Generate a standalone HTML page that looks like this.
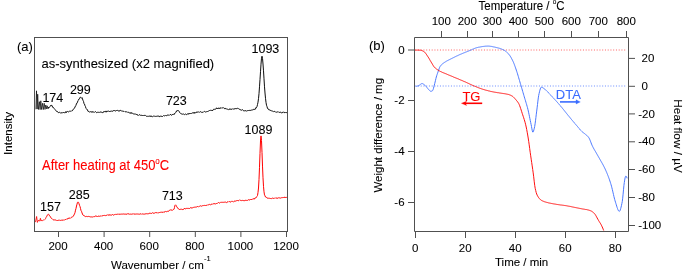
<!DOCTYPE html>
<html><head><meta charset="utf-8"><style>
html,body{margin:0;padding:0;background:#fff;}
body{width:685px;height:270px;overflow:hidden;}
svg{display:block;will-change:transform;font-family:"Liberation Sans",sans-serif;}
</style></head><body>
<svg width="685" height="270" viewBox="0 0 685 270">
<rect width="685" height="270" fill="#fff"/>
<!-- Panel (a) -->
<g fill="none" stroke="#505050" stroke-width="1">
<rect x="34.5" y="37.5" width="253" height="194"/>
<line x1="58.5" y1="231" x2="58.5" y2="237"/><line x1="104.1" y1="231" x2="104.1" y2="237"/><line x1="149.7" y1="231" x2="149.7" y2="237"/><line x1="195.3" y1="231" x2="195.3" y2="237"/><line x1="240.9" y1="231" x2="240.9" y2="237"/><line x1="286.5" y1="231" x2="286.5" y2="237"/>
</g>
<path d="M35.9 109.3L36.5 90.8 37.1 109.0 37.7 94.2 38.4 109.5 39.4 101.7 40.1 109.6 40.8 100.8 41.6 109.5 42.5 103.3 43.3 109.6 44.2 103.3 45.0 109.4 45.8 105.0 46.5 108.8 47.2 105.8 48.0 108.8" fill="none" stroke="#000" stroke-width="0.7" stroke-linejoin="miter" stroke-miterlimit="4"/>
<path d="M48.0 108.8L48.5 107.1 49.0 107.8 49.5 107.0 50.0 106.5 50.5 106.0 51.0 105.0 51.5 105.4 52.0 105.4 52.5 107.2 53.0 106.9 53.5 107.5 54.0 108.3 54.5 109.0 55.0 109.5 55.5 110.2 56.0 110.9 56.5 111.1 57.0 111.8 57.5 111.7 58.0 112.0 58.5 112.7 59.0 112.5 59.5 112.3 60.0 112.5 60.5 112.8 61.0 113.3 61.5 112.6 62.0 112.6 62.5 112.9 63.0 112.3 63.5 112.5 64.0 112.8 64.5 112.7 65.0 112.5 65.5 112.6 66.0 111.4 66.5 112.5 67.0 111.8 67.5 111.4 68.0 111.9 68.5 111.9 69.0 111.5 69.5 111.2 70.0 111.4 70.5 111.2 71.0 111.5 71.5 111.1 72.0 110.6 72.5 110.6 73.0 109.7 73.5 109.0 74.0 108.8 74.5 108.1 75.0 107.0 75.5 105.9 76.0 105.3 76.5 103.4 77.0 103.4 77.5 102.2 78.0 100.5 78.5 100.1 79.0 98.9 79.5 98.7 80.0 97.3 80.5 97.3 81.0 97.7 81.5 98.1 82.0 97.6 82.5 99.0 83.0 100.4 83.5 101.4 84.0 103.5 84.5 104.0 85.0 105.8 85.5 106.6 86.0 108.5 86.5 108.9 87.0 109.6 87.5 109.8 88.0 111.4 88.5 111.5 89.0 111.7 89.5 112.0 90.0 111.9 90.5 111.7 91.0 111.7 91.5 111.7 92.0 112.5 92.5 111.6 93.0 111.9 93.5 112.0 94.0 112.2 94.5 112.3 95.0 111.8 95.5 111.6 96.0 112.2 96.5 112.6 97.0 112.4 97.5 112.3 98.0 112.1 98.5 112.3 99.0 112.1 99.5 112.4 100.0 111.8 100.5 112.1 101.0 112.0 101.5 112.2 102.0 112.0 102.5 112.7 103.0 112.4 103.5 112.3 104.0 111.2 104.5 111.7 105.0 111.5 105.5 111.9 106.0 110.9 106.5 112.0 107.0 111.9 107.5 111.1 108.0 111.1 108.5 111.1 109.0 111.4 109.5 111.5 110.0 111.9 110.5 111.1 111.0 111.3 111.5 111.1 112.0 111.5 112.5 111.2 113.0 111.3 113.5 110.5 114.0 110.7 114.5 110.5 115.0 111.2 115.5 110.9 116.0 110.5 116.5 110.5 117.0 110.7 117.5 110.4 118.0 110.3 118.5 110.7 119.0 111.4 119.5 110.6 120.0 110.5 120.5 110.4 121.0 110.4 121.5 111.1 122.0 111.3 122.5 111.1 123.0 111.3 123.5 111.3 124.0 111.5 124.5 111.0 125.0 111.5 125.5 111.8 126.0 111.6 126.5 111.8 127.0 111.8 127.5 112.1 128.0 112.6 128.5 112.3 129.0 112.5 129.5 112.9 130.0 112.9 130.5 113.4 131.0 112.3 131.5 113.3 132.0 113.0 132.5 113.3 133.0 113.7 133.5 113.9 134.0 114.0 134.5 113.8 135.0 114.4 135.5 113.9 136.0 114.1 136.5 114.5 137.0 114.2 137.5 115.2 138.0 114.9 138.5 115.4 139.0 114.8 139.5 114.7 140.0 115.0 140.5 115.3 141.0 114.9 141.5 115.3 142.0 115.3 142.5 115.9 143.0 115.2 143.5 115.9 144.0 115.4 144.5 115.4 145.0 115.5 145.5 115.4 146.0 115.9 146.5 116.3 147.0 116.1 147.5 116.3 148.0 116.6 148.5 116.3 149.0 116.3 149.5 116.2 150.0 115.8 150.5 116.5 151.0 115.7 151.5 116.5 152.0 116.3 152.5 116.7 153.0 116.3 153.5 116.1 154.0 116.5 154.5 116.2 155.0 116.3 155.5 116.4 156.0 116.3 156.5 116.3 157.0 116.1 157.5 116.3 158.0 115.7 158.5 116.3 159.0 116.0 159.5 116.7 160.0 116.8 160.5 115.8 161.0 116.4 161.5 116.3 162.0 116.0 162.5 116.5 163.0 116.1 163.5 115.6 164.0 116.0 164.5 115.9 165.0 115.9 165.5 115.4 166.0 115.9 166.5 115.8 167.0 115.1 167.5 115.1 168.0 115.2 168.5 114.9 169.0 115.5 169.5 115.0 170.0 114.5 170.5 114.5 171.0 114.7 171.5 115.4 172.0 114.5 172.5 114.5 173.0 114.6 173.5 114.2 174.0 114.7 174.5 113.5 175.0 113.5 175.5 112.7 176.0 112.1 176.5 110.9 177.0 111.3 177.5 110.5 178.0 110.6 178.5 110.6 179.0 111.2 179.5 112.3 180.0 113.0 180.5 113.3 181.0 113.8 181.5 113.9 182.0 113.8 182.5 114.2 183.0 114.2 183.5 114.0 184.0 114.3 184.5 114.6 185.0 114.2 185.5 114.0 186.0 114.4 186.5 114.7 187.0 114.0 187.5 113.9 188.0 113.8 188.5 114.2 189.0 113.1 189.5 113.7 190.0 113.9 190.5 113.2 191.0 113.8 191.5 113.4 192.0 112.9 192.5 113.1 193.0 112.4 193.5 112.7 194.0 113.4 194.5 112.4 195.0 113.2 195.5 112.6 196.0 112.8 196.5 112.5 197.0 111.7 197.5 112.2 198.0 112.4 198.5 111.9 199.0 111.8 199.5 112.3 200.0 112.0 200.5 111.6 201.0 111.9 201.5 112.3 202.0 111.9 202.5 112.3 203.0 112.4 203.5 111.9 204.0 111.5 204.5 111.4 205.0 111.7 205.5 112.0 206.0 111.7 206.5 111.7 207.0 111.4 207.5 111.5 208.0 111.2 208.5 111.1 209.0 110.7 209.5 110.5 210.0 110.6 210.5 110.3 211.0 110.1 211.5 110.4 212.0 110.0 212.5 110.8 213.0 110.0 213.5 109.3 214.0 109.6 214.5 109.3 215.0 108.9 215.5 109.3 216.0 108.6 216.5 107.8 217.0 108.9 217.5 108.3 218.0 108.9 218.5 108.1 219.0 107.8 219.5 108.6 220.0 107.7 220.5 108.0 221.0 108.4 221.5 107.9 222.0 107.8 222.5 107.9 223.0 108.1 223.5 107.7 224.0 108.3 224.5 108.4 225.0 109.1 225.5 108.4 226.0 108.4 226.5 109.1 227.0 108.8 227.5 109.2 228.0 109.3 228.5 109.7 229.0 109.2 229.5 109.4 230.0 108.6 230.5 109.1 231.0 109.8 231.5 109.1 232.0 109.0 232.5 108.8 233.0 109.3 233.5 109.1 234.0 108.5 234.5 108.9 235.0 108.7 235.5 108.7 236.0 108.1 236.5 108.8 237.0 108.4 237.5 108.3 238.0 108.3 238.5 108.6 239.0 109.2 239.5 109.1 240.0 109.8 240.5 109.8 241.0 110.2 241.5 110.2 242.0 110.0 242.5 109.6 243.0 110.4 243.5 110.7 244.0 110.6 244.5 110.8 245.0 110.6 245.5 110.7 246.0 110.5 246.5 111.2 247.0 110.8 247.5 110.6 248.0 110.2 248.5 110.5 249.0 110.9 249.5 110.5 250.0 109.9 250.5 110.5 251.0 110.4 251.5 110.1 252.0 109.9 252.5 109.9 253.0 109.6 253.5 109.6 254.0 108.9 254.5 109.5 255.0 108.8 255.5 109.1 256.0 107.3 256.5 107.5 257.0 106.5 257.5 104.5 258.0 102.2 258.5 98.6 259.0 93.6 259.5 86.8 260.0 79.4 260.5 71.7 261.0 64.2 261.5 58.2 262.0 56.2 262.5 58.3 263.0 64.0 263.5 70.8 264.0 78.8 264.5 86.8 265.0 93.0 265.5 98.3 266.0 102.4 266.5 105.2 267.0 106.6 267.5 108.4 268.0 108.4 268.5 109.6 269.0 109.3 269.5 109.7 270.0 110.6 270.5 110.4 271.0 110.5 271.5 110.8 272.0 111.2 272.5 111.1 273.0 111.3 273.5 111.7 274.0 111.2 274.5 111.4 275.0 111.5 275.5 112.1 276.0 112.1 276.5 112.2 277.0 111.9 277.5 111.9 278.0 112.3 278.5 111.9 279.0 112.4 279.5 112.4 280.0 112.0 280.5 112.2 281.0 112.3 281.5 112.9 282.0 113.2 282.5 112.4 283.0 112.5 283.5 111.8 284.0 112.6 284.5 112.6 285.0 112.3 285.5 112.9 286.0 112.2 286.5 112.6 287.0 112.8" fill="none" stroke="#000" stroke-width="0.95" stroke-linejoin="round"/>
<path d="M35.5 222.1L36.6 216.5 37.4 222.4 38.1 220.6 38.9 220.4 39.6 221.2 40.4 218.3 41.0 221.0 41.8 220.3 42.5 220.7 43.3 219.9 44.2 220.1 44.9 219.4 45.5 218.8 46.0 217.5" fill="none" stroke="#ff0000" stroke-width="0.85" stroke-linejoin="miter" stroke-miterlimit="3"/>
<path d="M46.0 217.5L46.5 216.8 47.0 215.8 47.5 214.8 48.0 214.4 48.5 214.2 49.0 214.8 49.5 215.8 50.0 216.1 50.5 216.8 51.0 217.9 51.5 218.5 52.0 218.9 52.5 219.0 53.0 219.5 53.5 219.9 54.0 219.6 54.5 219.9 55.0 219.7 55.5 220.0 56.0 219.9 56.5 220.4 57.0 220.1 57.5 220.5 58.0 220.5 58.5 220.4 59.0 219.8 59.5 220.3 60.0 220.4 60.5 220.4 61.0 220.0 61.5 220.2 62.0 220.1 62.5 220.1 63.0 220.5 63.5 219.9 64.0 220.0 64.5 220.1 65.0 219.5 65.5 219.5 66.0 219.4 66.5 219.2 67.0 218.7 67.5 218.9 68.0 219.0 68.5 218.1 69.0 218.5 69.5 218.2 70.0 217.8 70.5 218.3 71.0 217.8 71.5 217.1 72.0 217.2 72.5 217.0 73.0 216.3 73.5 215.9 74.0 214.9 74.5 213.9 75.0 212.6 75.5 210.2 76.0 208.4 76.5 206.0 77.0 204.2 77.5 202.4 78.0 201.9 78.5 202.4 79.0 203.7 79.5 205.3 80.0 206.5 80.5 208.4 81.0 210.5 81.5 211.3 82.0 212.9 82.5 214.0 83.0 215.1 83.5 215.5 84.0 215.6 84.5 215.9 85.0 216.1 85.5 216.7 86.0 216.3 86.5 216.4 87.0 216.7 87.5 216.6 88.0 216.6 88.5 216.4 89.0 216.7 89.5 216.6 90.0 217.0 90.5 216.9 91.0 216.7 91.5 216.9 92.0 216.7 92.5 217.0 93.0 216.7 93.5 216.8 94.0 216.3 94.5 216.7 95.0 216.1 95.5 216.0 96.0 216.4 96.5 216.2 97.0 216.4 97.5 216.9 98.0 216.1 98.5 216.1 99.0 216.2 99.5 216.3 100.0 216.1 100.5 216.0 101.0 216.2 101.5 216.1 102.0 215.6 102.5 215.8 103.0 215.8 103.5 215.5 104.0 215.7 104.5 215.4 105.0 215.8 105.5 215.6 106.0 215.5 106.5 215.3 107.0 215.3 107.5 214.8 108.0 215.0 108.5 215.3 109.0 214.6 109.5 215.3 110.0 214.6 110.5 215.2 111.0 214.8 111.5 215.1 112.0 214.9 112.5 214.5 113.0 215.1 113.5 215.1 114.0 214.7 114.5 214.6 115.0 214.6 115.5 214.3 116.0 214.8 116.5 214.4 117.0 214.4 117.5 214.2 118.0 214.2 118.5 214.0 119.0 214.6 119.5 214.2 120.0 214.5 120.5 214.2 121.0 214.0 121.5 214.1 122.0 214.0 122.5 214.1 123.0 214.0 123.5 214.0 124.0 213.7 124.5 213.9 125.0 214.5 125.5 213.9 126.0 213.8 126.5 214.2 127.0 214.4 127.5 213.7 128.0 214.0 128.5 213.9 129.0 213.6 129.5 214.3 130.0 214.1 130.5 214.1 131.0 213.9 131.5 214.2 132.0 213.9 132.5 214.0 133.0 213.8 133.5 213.8 134.0 214.4 134.5 214.0 135.0 214.2 135.5 214.1 136.0 214.0 136.5 214.0 137.0 214.2 137.5 214.0 138.0 214.0 138.5 214.1 139.0 214.4 139.5 214.2 140.0 214.1 140.5 213.9 141.0 213.7 141.5 214.2 142.0 214.2 142.5 213.9 143.0 214.1 143.5 214.1 144.0 214.1 144.5 214.1 145.0 213.7 145.5 214.1 146.0 213.4 146.5 213.9 147.0 213.8 147.5 213.8 148.0 214.1 148.5 213.9 149.0 213.2 149.5 213.0 150.0 213.6 150.5 213.1 151.0 213.4 151.5 213.5 152.0 212.9 152.5 212.7 153.0 213.3 153.5 213.2 154.0 213.1 154.5 213.1 155.0 212.8 155.5 212.6 156.0 212.9 156.5 212.7 157.0 212.5 157.5 213.0 158.0 212.8 158.5 212.8 159.0 212.4 159.5 212.5 160.0 212.3 160.5 212.3 161.0 212.5 161.5 212.2 162.0 212.4 162.5 212.3 163.0 212.7 163.5 211.8 164.0 212.3 164.5 211.9 165.0 211.9 165.5 211.4 166.0 211.5 166.5 211.7 167.0 211.4 167.5 211.3 168.0 211.1 168.5 211.3 169.0 210.9 169.5 210.2 170.0 210.5 170.5 210.1 171.0 209.6 171.5 210.2 172.0 210.6 172.5 210.1 173.0 209.7 173.5 209.5 174.0 209.3 174.5 207.4 175.0 205.3 175.5 204.8 176.0 205.3 176.5 206.3 177.0 207.1 177.5 207.9 178.0 208.2 178.5 209.0 179.0 209.0 179.5 209.6 180.0 209.0 180.5 209.3 181.0 209.3 181.5 209.0 182.0 209.7 182.5 209.6 183.0 209.1 183.5 209.3 184.0 209.1 184.5 208.3 185.0 209.0 185.5 208.8 186.0 208.7 186.5 208.4 187.0 208.5 187.5 208.4 188.0 208.7 188.5 208.4 189.0 208.2 189.5 208.5 190.0 207.9 190.5 207.9 191.0 207.4 191.5 208.2 192.0 207.9 192.5 207.8 193.0 207.7 193.5 207.4 194.0 207.4 194.5 207.2 195.0 207.1 195.5 207.1 196.0 207.3 196.5 207.0 197.0 206.7 197.5 206.5 198.0 206.4 198.5 206.9 199.0 206.5 199.5 206.3 200.0 206.1 200.5 205.8 201.0 206.0 201.5 206.2 202.0 205.8 202.5 205.7 203.0 205.6 203.5 205.6 204.0 205.1 204.5 205.4 205.0 205.1 205.5 205.5 206.0 205.0 206.5 205.3 207.0 205.4 207.5 204.9 208.0 204.7 208.5 204.8 209.0 204.7 209.5 204.4 210.0 204.7 210.5 205.0 211.0 204.3 211.5 204.2 212.0 203.9 212.5 204.2 213.0 203.7 213.5 203.7 214.0 204.2 214.5 203.5 215.0 203.9 215.5 203.9 216.0 203.5 216.5 203.5 217.0 203.7 217.5 203.1 218.0 202.8 218.5 202.5 219.0 202.8 219.5 203.1 220.0 202.8 220.5 202.3 221.0 202.3 221.5 202.3 222.0 202.4 222.5 202.3 223.0 202.3 223.5 202.3 224.0 202.2 224.5 202.2 225.0 202.2 225.5 202.1 226.0 202.2 226.5 202.6 227.0 202.2 227.5 202.0 228.0 201.6 228.5 202.1 229.0 201.5 229.5 201.6 230.0 202.1 230.5 202.0 231.0 201.8 231.5 201.3 232.0 201.6 232.5 201.4 233.0 201.7 233.5 202.0 234.0 201.4 234.5 201.1 235.0 200.9 235.5 201.1 236.0 201.0 236.5 200.7 237.0 200.9 237.5 200.5 238.0 200.9 238.5 200.7 239.0 200.4 239.5 199.9 240.0 200.3 240.5 200.4 241.0 200.5 241.5 200.6 242.0 200.4 242.5 200.3 243.0 200.9 243.5 200.6 244.0 200.7 244.5 200.8 245.0 200.1 245.5 200.3 246.0 200.4 246.5 200.4 247.0 200.1 247.5 200.4 248.0 200.1 248.5 199.7 249.0 199.7 249.5 200.0 250.0 199.8 250.5 199.1 251.0 199.8 251.5 199.5 252.0 199.6 252.5 199.0 253.0 198.9 253.5 198.6 254.0 199.3 254.5 198.4 255.0 198.6 255.5 197.8 256.0 197.8 256.5 196.9 257.0 196.5 257.5 195.5 258.0 192.4 258.5 188.0 259.0 179.5 259.5 167.3 260.0 153.4 260.5 141.0 261.0 135.9 261.5 140.6 262.0 152.4 262.5 166.1 263.0 177.8 263.5 186.3 264.0 191.8 264.5 194.9 265.0 195.8 265.5 197.0 266.0 197.2 266.5 197.4 267.0 198.1 267.5 197.9 268.0 198.5 268.5 198.0 269.0 198.4 269.5 198.3 270.0 198.2 270.5 198.5 271.0 198.4 271.5 198.6 272.0 198.4 272.5 198.1 273.0 198.4 273.5 198.4 274.0 198.6 274.5 198.1 275.0 198.3 275.5 197.9 276.0 198.4 276.5 198.0 277.0 197.8 277.5 198.2 278.0 198.4 278.5 197.7 279.0 197.8 279.5 197.9 280.0 197.7 280.5 198.1 281.0 197.7 281.5 197.7 282.0 198.0 282.5 197.6 283.0 197.9 283.5 197.5 284.0 197.3 284.5 197.1 285.0 198.0 285.5 197.4 286.0 197.5 286.5 197.4 287.0 197.4" fill="none" stroke="#ff0000" stroke-width="1" stroke-linejoin="round"/>
<text transform="translate(58.00,250.00)" font-size="11.5" fill="#000" stroke="#000" stroke-width="0.08" text-anchor="middle">200</text><text transform="translate(103.60,250.00)" font-size="11.5" fill="#000" stroke="#000" stroke-width="0.08" text-anchor="middle">400</text><text transform="translate(149.20,250.00)" font-size="11.5" fill="#000" stroke="#000" stroke-width="0.08" text-anchor="middle">600</text><text transform="translate(194.80,250.00)" font-size="11.5" fill="#000" stroke="#000" stroke-width="0.08" text-anchor="middle">800</text><text transform="translate(240.40,250.00)" font-size="11.5" fill="#000" stroke="#000" stroke-width="0.08" text-anchor="middle">1000</text><text transform="translate(286.00,250.00)" font-size="11.5" fill="#000" stroke="#000" stroke-width="0.08" text-anchor="middle">1200</text>
<text transform="translate(17.00,50.60)" font-size="13" fill="#000" stroke="#000" stroke-width="0.08">(a)</text>
<text transform="translate(41.50,68.00)" font-size="13" fill="#000" stroke="#000" stroke-width="0.08">as-synthesized (x2 magnified)</text>
<text transform="translate(42.00,169.60) scale(1.0,1.08)" font-size="13" fill="#ff0000" stroke="#ff0000" stroke-width="0.08">After heating at 450<tspan font-size="8" dy="-5.6">o</tspan><tspan dy="5.6">C</tspan></text>
<text transform="translate(52.80,102.00)" font-size="12.5" fill="#000" stroke="#000" stroke-width="0.08" text-anchor="middle">174</text>
<text transform="translate(80.30,94.00)" font-size="12.5" fill="#000" stroke="#000" stroke-width="0.08" text-anchor="middle">299</text>
<text transform="translate(176.30,105.00)" font-size="12.5" fill="#000" stroke="#000" stroke-width="0.08" text-anchor="middle">723</text>
<text transform="translate(265.40,52.80)" font-size="12.5" fill="#000" stroke="#000" stroke-width="0.08" text-anchor="middle">1093</text>
<text transform="translate(50.50,211.00)" font-size="12.5" fill="#000" stroke="#000" stroke-width="0.08" text-anchor="middle">157</text>
<text transform="translate(79.20,198.80)" font-size="12.5" fill="#000" stroke="#000" stroke-width="0.08" text-anchor="middle">285</text>
<text transform="translate(172.30,199.80)" font-size="12.5" fill="#000" stroke="#000" stroke-width="0.08" text-anchor="middle">713</text>
<text transform="translate(258.50,134.00)" font-size="12.5" fill="#000" stroke="#000" stroke-width="0.08" text-anchor="middle">1089</text>
<text transform="translate(11.60,133.50) rotate(-90)" font-size="11.5" fill="#000" stroke="#000" stroke-width="0.08" text-anchor="middle">Intensity</text>
<text transform="translate(111.00,268.60)" font-size="11.5" fill="#000" stroke="#000" stroke-width="0.08">Wavenumber / cm<tspan font-size="7.5" dy="-7.2">-1</tspan></text>

<!-- Panel (b) -->
<line x1="415.2" y1="50.0" x2="626.5" y2="50.0" stroke="#ff6060" stroke-width="1" stroke-dasharray="1 1.75"/>
<line x1="415.2" y1="86.0" x2="626.5" y2="86.0" stroke="#6a8cff" stroke-width="1" stroke-dasharray="1 1.75"/>
<g fill="none" stroke="#505050" stroke-width="1">
<path d="M414.5 37.5H628.5V231.5H414.5Z"/>
<line x1="441.5" y1="31" x2="441.5" y2="37.5"/><line x1="467.5" y1="31" x2="467.5" y2="37.5"/><line x1="492.5" y1="31" x2="492.5" y2="37.5"/><line x1="518.5" y1="31" x2="518.5" y2="37.5"/><line x1="544.5" y1="31" x2="544.5" y2="37.5"/><line x1="571.5" y1="31" x2="571.5" y2="37.5"/><line x1="598.5" y1="31" x2="598.5" y2="37.5"/><line x1="626.5" y1="31" x2="626.5" y2="37.5"/><line x1="415.5" y1="231" x2="415.5" y2="238"/><line x1="465.5" y1="231" x2="465.5" y2="238"/><line x1="515.5" y1="231" x2="515.5" y2="238"/><line x1="565.5" y1="231" x2="565.5" y2="238"/><line x1="615.5" y1="231" x2="615.5" y2="238"/><line x1="408" y1="50.0" x2="414.5" y2="50.0"/><line x1="408" y1="100.5" x2="414.5" y2="100.5"/><line x1="408" y1="151.5" x2="414.5" y2="151.5"/><line x1="408" y1="202.5" x2="414.5" y2="202.5"/><line x1="628.5" y1="58.4" x2="635" y2="58.4"/><line x1="628.5" y1="86.3" x2="635" y2="86.3"/><line x1="628.5" y1="113.9" x2="635" y2="113.9"/><line x1="628.5" y1="141.8" x2="635" y2="141.8"/><line x1="628.5" y1="169.5" x2="635" y2="169.5"/><line x1="628.5" y1="197.5" x2="635" y2="197.5"/><line x1="628.5" y1="225.5" x2="635" y2="225.5"/>
</g>
<path d="M415.9 86.4L416.3 86.3 416.7 86.2 417.1 86.1 417.5 86.0 417.9 85.9 418.3 85.8 418.7 85.6 419.1 85.4 419.5 85.1 419.9 84.8 420.3 84.5 420.7 84.2 421.1 83.9 421.5 83.7 421.9 83.6 422.3 83.6 422.7 83.7 423.1 83.9 423.5 84.2 423.9 84.5 424.3 84.8 424.7 85.1 425.1 85.4 425.5 85.8 425.9 86.2 426.3 86.7 426.7 87.2 427.1 87.7 427.5 88.2 427.9 88.7 428.3 89.1 428.7 89.6 429.1 90.0 429.5 90.4 429.9 90.8 430.3 91.1 430.7 91.3 431.1 91.3 431.5 91.2 431.9 91.0 432.3 90.8 432.7 90.5 433.1 89.6 433.5 88.3 433.9 86.7 434.3 85.2 434.7 83.7 435.1 82.0 435.5 80.3 435.9 78.6 436.3 77.0 436.7 75.7 437.1 74.5 437.5 73.3 437.9 72.2 438.3 71.1 438.7 70.0 439.1 68.8 439.5 67.7 439.9 66.8 440.3 66.2 440.7 65.7 441.1 65.2 441.5 64.7 441.9 64.4 442.3 64.0 442.7 63.7 443.1 63.4 443.5 63.1 443.9 62.8 444.3 62.5 444.7 62.3 445.1 62.0 445.5 61.8 445.9 61.5 446.3 61.3 446.7 61.0 447.1 60.8 447.5 60.6 447.9 60.4 448.3 60.2 448.7 60.0 449.1 59.8 449.5 59.6 449.9 59.4 450.3 59.2 450.7 59.0 451.1 58.8 451.5 58.6 451.9 58.4 452.3 58.2 452.7 58.0 453.1 57.8 453.5 57.6 453.9 57.4 454.3 57.2 454.7 57.0 455.1 56.8 455.5 56.6 455.9 56.4 456.3 56.2 456.7 56.0 457.1 55.8 457.5 55.7 457.9 55.5 458.3 55.3 458.7 55.1 459.1 54.9 459.5 54.7 459.9 54.6 460.3 54.4 460.7 54.2 461.1 54.0 461.5 53.9 461.9 53.7 462.3 53.5 462.7 53.4 463.1 53.2 463.5 53.0 463.9 52.9 464.3 52.7 464.7 52.6 465.1 52.4 465.5 52.2 465.9 52.1 466.3 51.9 466.7 51.8 467.1 51.6 467.5 51.4 467.9 51.3 468.3 51.1 468.7 51.0 469.1 50.8 469.5 50.6 469.9 50.5 470.3 50.3 470.7 50.1 471.1 50.0 471.5 49.8 471.9 49.6 472.3 49.4 472.7 49.2 473.1 49.1 473.5 48.9 473.9 48.7 474.3 48.5 474.7 48.4 475.1 48.2 475.5 48.1 475.9 47.9 476.3 47.8 476.7 47.7 477.1 47.6 477.5 47.5 477.9 47.4 478.3 47.3 478.7 47.2 479.1 47.2 479.5 47.1 479.9 47.0 480.3 46.9 480.7 46.9 481.1 46.8 481.5 46.7 481.9 46.7 482.3 46.6 482.7 46.5 483.1 46.5 483.5 46.4 483.9 46.4 484.3 46.3 484.7 46.3 485.1 46.2 485.5 46.2 485.9 46.2 486.3 46.2 486.7 46.1 487.1 46.1 487.5 46.1 487.9 46.1 488.3 46.1 488.7 46.1 489.1 46.1 489.5 46.2 489.9 46.2 490.3 46.3 490.7 46.3 491.1 46.4 491.5 46.4 491.9 46.5 492.3 46.6 492.7 46.7 493.1 46.8 493.5 46.9 493.9 46.9 494.3 47.0 494.7 47.1 495.1 47.2 495.5 47.3 495.9 47.4 496.3 47.5 496.7 47.6 497.1 47.7 497.5 47.8 497.9 47.9 498.3 48.0 498.7 48.1 499.1 48.2 499.5 48.3 499.9 48.5 500.3 48.6 500.7 48.7 501.1 48.9 501.5 49.0 501.9 49.2 502.3 49.4 502.7 49.5 503.1 49.7 503.5 49.9 503.9 50.1 504.3 50.3 504.7 50.6 505.1 50.8 505.5 51.1 505.9 51.4 506.3 51.8 506.7 52.1 507.1 52.5 507.5 52.9 507.9 53.3 508.3 53.7 508.7 54.2 509.1 54.6 509.5 55.1 509.9 55.7 510.3 56.3 510.7 57.0 511.1 57.6 511.5 58.4 511.9 59.1 512.3 59.9 512.7 60.7 513.1 61.5 513.5 62.4 513.9 63.4 514.3 64.4 514.7 65.5 515.1 66.6 515.5 67.8 515.9 68.9 516.3 70.1 516.7 71.3 517.1 72.5 517.5 73.8 517.9 75.1 518.3 76.4 518.7 77.8 519.1 79.2 519.5 80.5 519.9 81.9 520.3 83.3 520.7 84.6 521.1 86.0 521.5 87.3 521.9 88.7 522.3 90.0 522.7 91.4 523.1 92.8 523.5 94.1 523.9 95.5 524.3 96.9 524.7 98.2 525.1 99.5 525.5 100.8 525.9 102.2 526.3 103.5 526.7 104.8 527.1 106.3 527.5 107.7 527.9 109.3 528.3 111.0 528.7 112.8 529.1 114.7 529.5 116.7 529.9 118.7 530.3 120.6 530.7 122.6 531.1 124.4 531.5 126.5 531.9 128.8 532.3 130.8 532.7 132.0 533.1 132.1 533.5 131.2 533.9 129.8 534.3 128.2 534.7 126.4 535.1 123.8 535.5 120.8 535.9 117.5 536.3 114.2 536.7 111.1 537.1 107.9 537.5 104.5 537.9 101.1 538.3 97.9 538.7 95.4 539.1 93.5 539.5 91.8 539.9 90.2 540.3 88.9 540.7 87.8 541.1 87.3 541.5 87.2 541.9 87.3 542.3 87.5 542.7 87.7 543.1 88.0 543.5 88.2 543.9 88.5 544.3 88.8 544.7 89.1 545.1 89.4 545.5 89.8 545.9 90.1 546.3 90.5 546.7 90.9 547.1 91.3 547.5 91.7 547.9 92.1 548.3 92.5 548.7 93.0 549.1 93.4 549.5 93.9 549.9 94.3 550.3 94.7 550.7 95.2 551.1 95.6 551.5 96.0 551.9 96.4 552.3 96.9 552.7 97.3 553.1 97.7 553.5 98.1 553.9 98.6 554.3 99.0 554.7 99.4 555.1 99.9 555.5 100.3 555.9 100.7 556.3 101.2 556.7 101.6 557.1 102.1 557.5 102.5 557.9 103.0 558.3 103.4 558.7 103.9 559.1 104.3 559.5 104.8 559.9 105.3 560.3 105.7 560.7 106.2 561.1 106.7 561.5 107.1 561.9 107.6 562.3 108.1 562.7 108.6 563.1 109.1 563.5 109.6 563.9 110.1 564.3 110.6 564.7 111.1 565.1 111.6 565.5 112.1 565.9 112.6 566.3 113.1 566.7 113.6 567.1 114.1 567.5 114.6 567.9 115.1 568.3 115.6 568.7 116.1 569.1 116.5 569.5 117.0 569.9 117.5 570.3 118.0 570.7 118.5 571.1 119.0 571.5 119.5 571.9 119.9 572.3 120.4 572.7 120.9 573.1 121.4 573.5 121.8 573.9 122.3 574.3 122.8 574.7 123.3 575.1 123.7 575.5 124.2 575.9 124.7 576.3 125.1 576.7 125.6 577.1 126.1 577.5 126.5 577.9 127.0 578.3 127.5 578.7 128.0 579.1 128.5 579.5 128.9 579.9 129.4 580.3 129.9 580.7 130.3 581.1 130.7 581.5 131.1 581.9 131.5 582.3 131.9 582.7 132.2 583.1 132.5 583.5 132.8 583.9 133.1 584.3 133.4 584.7 133.7 585.1 134.0 585.5 134.3 585.9 134.7 586.3 135.0 586.7 135.4 587.1 135.7 587.5 136.1 587.9 136.5 588.3 137.0 588.7 137.5 589.1 138.1 589.5 138.9 589.9 139.8 590.3 140.8 590.7 141.8 591.1 142.9 591.5 144.0 591.9 144.9 592.3 145.8 592.7 146.6 593.1 147.4 593.5 148.1 593.9 148.9 594.3 149.6 594.7 150.3 595.1 150.9 595.5 151.6 595.9 152.3 596.3 153.0 596.7 153.7 597.1 154.4 597.5 155.1 597.9 155.8 598.3 156.5 598.7 157.2 599.1 157.9 599.5 158.6 599.9 159.3 600.3 160.0 600.7 160.7 601.1 161.4 601.5 162.1 601.9 162.8 602.3 163.5 602.7 164.2 603.1 165.0 603.5 165.7 603.9 166.5 604.3 167.3 604.7 168.1 605.1 168.9 605.5 169.8 605.9 170.7 606.3 171.6 606.7 172.5 607.1 173.5 607.5 174.5 607.9 175.5 608.3 176.5 608.7 177.6 609.1 178.7 609.5 179.8 609.9 181.0 610.3 182.2 610.7 183.5 611.1 184.8 611.5 186.2 611.9 187.8 612.3 189.4 612.7 191.1 613.1 192.9 613.5 194.6 613.9 196.4 614.3 198.0 614.7 199.5 615.1 200.9 615.5 202.2 615.9 203.5 616.3 204.8 616.7 206.1 617.1 207.4 617.5 208.5 617.9 209.6 618.3 210.4 618.7 211.0 619.1 211.4 619.5 211.3 619.9 210.8 620.3 209.9 620.7 208.6 621.1 207.1 621.5 205.3 621.9 203.4 622.3 201.4 622.7 198.2 623.1 194.2 623.5 189.8 623.9 185.7 624.3 182.6 624.7 180.1 625.1 177.8 625.5 176.4 625.9 176.2 626.3 176.4 626.7 177.1 627.1 178.3" fill="none" stroke="#4a78ff" stroke-width="1" stroke-linejoin="round"/>
<path d="M415.2 50.1L415.7 50.1 416.2 50.1 416.7 50.1 417.2 50.1 417.7 50.1 418.2 50.1 418.7 50.1 419.2 50.2 419.7 50.2 420.2 50.2 420.7 50.2 421.2 50.3 421.7 50.5 422.2 50.7 422.7 50.9 423.2 51.2 423.7 51.5 424.2 51.8 424.7 52.2 425.2 52.7 425.7 53.4 426.2 54.1 426.7 54.8 427.2 55.6 427.7 56.4 428.2 57.1 428.7 57.9 429.2 58.7 429.7 59.6 430.2 60.5 430.7 61.3 431.2 62.2 431.7 63.0 432.2 63.8 432.7 64.7 433.2 65.5 433.7 66.3 434.2 67.0 434.7 67.5 435.2 68.0 435.7 68.4 436.2 68.8 436.7 69.2 437.2 69.5 437.7 69.9 438.2 70.2 438.7 70.5 439.2 70.8 439.7 71.0 440.2 71.3 440.7 71.6 441.2 71.8 441.7 72.0 442.2 72.3 442.7 72.5 443.2 72.7 443.7 72.9 444.2 73.1 444.7 73.3 445.2 73.5 445.7 73.7 446.2 73.9 446.7 74.1 447.2 74.3 447.7 74.6 448.2 74.8 448.7 75.0 449.2 75.2 449.7 75.4 450.2 75.6 450.7 75.8 451.2 76.0 451.7 76.2 452.2 76.4 452.7 76.6 453.2 76.9 453.7 77.1 454.2 77.3 454.7 77.5 455.2 77.7 455.7 77.9 456.2 78.1 456.7 78.3 457.2 78.5 457.7 78.7 458.2 78.9 458.7 79.1 459.2 79.4 459.7 79.6 460.2 79.8 460.7 80.0 461.2 80.2 461.7 80.4 462.2 80.6 462.7 80.8 463.2 81.1 463.7 81.3 464.2 81.5 464.7 81.7 465.2 81.9 465.7 82.1 466.2 82.4 466.7 82.6 467.2 82.8 467.7 83.1 468.2 83.3 468.7 83.5 469.2 83.8 469.7 84.0 470.2 84.2 470.7 84.5 471.2 84.7 471.7 84.9 472.2 85.2 472.7 85.4 473.2 85.6 473.7 85.8 474.2 86.0 474.7 86.2 475.2 86.4 475.7 86.6 476.2 86.8 476.7 87.0 477.2 87.2 477.7 87.4 478.2 87.6 478.7 87.8 479.2 88.0 479.7 88.2 480.2 88.4 480.7 88.5 481.2 88.7 481.7 88.9 482.2 89.1 482.7 89.2 483.2 89.4 483.7 89.5 484.2 89.7 484.7 89.8 485.2 90.0 485.7 90.1 486.2 90.2 486.7 90.4 487.2 90.5 487.7 90.6 488.2 90.8 488.7 90.9 489.2 91.0 489.7 91.1 490.2 91.3 490.7 91.4 491.2 91.5 491.7 91.6 492.2 91.7 492.7 91.8 493.2 91.9 493.7 92.0 494.2 92.1 494.7 92.2 495.2 92.3 495.7 92.3 496.2 92.4 496.7 92.5 497.2 92.6 497.7 92.7 498.2 92.7 498.7 92.8 499.2 92.9 499.7 93.0 500.2 93.1 500.7 93.1 501.2 93.2 501.7 93.3 502.2 93.4 502.7 93.4 503.2 93.5 503.7 93.6 504.2 93.7 504.7 93.7 505.2 93.8 505.7 93.9 506.2 94.0 506.7 94.1 507.2 94.2 507.7 94.3 508.2 94.4 508.7 94.5 509.2 94.7 509.7 94.9 510.2 95.1 510.7 95.3 511.2 95.6 511.7 95.8 512.2 96.1 512.7 96.4 513.2 96.8 513.7 97.3 514.2 97.8 514.7 98.4 515.2 98.9 515.7 99.5 516.2 100.1 516.7 100.7 517.2 101.3 517.7 102.0 518.2 102.7 518.7 103.5 519.2 104.5 519.7 105.7 520.2 107.1 520.7 108.6 521.2 110.1 521.7 111.7 522.2 113.3 522.7 114.8 523.2 116.3 523.7 117.8 524.2 119.4 524.7 121.0 525.2 122.8 525.7 124.8 526.2 127.0 526.7 129.5 527.2 132.2 527.7 135.0 528.2 138.0 528.7 141.3 529.2 144.8 529.7 148.6 530.2 152.3 530.7 155.8 531.2 159.2 531.7 162.6 532.2 165.9 532.7 169.4 533.2 172.9 533.7 176.8 534.2 181.2 534.7 185.3 535.2 188.3 535.7 190.5 536.2 192.5 536.7 194.0 537.2 195.2 537.7 196.1 538.2 196.9 538.7 197.7 539.2 198.3 539.7 198.9 540.2 199.4 540.7 199.9 541.2 200.2 541.7 200.5 542.2 200.7 542.7 201.0 543.2 201.2 543.7 201.4 544.2 201.6 544.7 201.8 545.2 201.9 545.7 202.1 546.2 202.2 546.7 202.4 547.2 202.5 547.7 202.6 548.2 202.8 548.7 202.9 549.2 203.0 549.7 203.1 550.2 203.2 550.7 203.3 551.2 203.4 551.7 203.5 552.2 203.6 552.7 203.7 553.2 203.8 553.7 203.9 554.2 204.0 554.7 204.0 555.2 204.1 555.7 204.2 556.2 204.3 556.7 204.4 557.2 204.5 557.7 204.5 558.2 204.6 558.7 204.7 559.2 204.8 559.7 204.8 560.2 204.9 560.7 205.0 561.2 205.0 561.7 205.1 562.2 205.2 562.7 205.2 563.2 205.3 563.7 205.3 564.2 205.4 564.7 205.5 565.2 205.6 565.7 205.6 566.2 205.7 566.7 205.8 567.2 205.9 567.7 206.0 568.2 206.1 568.7 206.2 569.2 206.3 569.7 206.3 570.2 206.4 570.7 206.5 571.2 206.6 571.7 206.8 572.2 206.9 572.7 207.0 573.2 207.1 573.7 207.2 574.2 207.3 574.7 207.4 575.2 207.5 575.7 207.6 576.2 207.7 576.7 207.8 577.2 207.9 577.7 208.0 578.2 208.1 578.7 208.2 579.2 208.3 579.7 208.4 580.2 208.5 580.7 208.6 581.2 208.7 581.7 208.8 582.2 208.9 582.7 209.0 583.2 209.1 583.7 209.1 584.2 209.2 584.7 209.3 585.2 209.4 585.7 209.5 586.2 209.5 586.7 209.6 587.2 209.7 587.7 209.9 588.2 210.0 588.7 210.1 589.2 210.3 589.7 210.4 590.2 210.6 590.7 210.8 591.2 211.0 591.7 211.3 592.2 211.6 592.7 212.0 593.2 212.4 593.7 212.8 594.2 213.3 594.7 213.9 595.2 214.5 595.7 215.3 596.2 216.2 596.7 217.1 597.2 218.0 597.7 219.0 598.2 219.8 598.7 220.7 599.2 221.5 599.7 222.3 600.2 223.1 600.7 223.9 601.2 224.8 601.7 225.8 602.2 226.9 602.7 228.0 603.2 229.2 603.7 230.5" fill="none" stroke="#ff1010" stroke-width="1" stroke-linejoin="round"/>
<text transform="translate(441.30,25.30)" font-size="11.5" fill="#000" stroke="#000" stroke-width="0.08" text-anchor="middle">100</text><text transform="translate(467.30,25.30)" font-size="11.5" fill="#000" stroke="#000" stroke-width="0.08" text-anchor="middle">200</text><text transform="translate(492.30,25.30)" font-size="11.5" fill="#000" stroke="#000" stroke-width="0.08" text-anchor="middle">300</text><text transform="translate(518.30,25.30)" font-size="11.5" fill="#000" stroke="#000" stroke-width="0.08" text-anchor="middle">400</text><text transform="translate(544.30,25.30)" font-size="11.5" fill="#000" stroke="#000" stroke-width="0.08" text-anchor="middle">500</text><text transform="translate(571.30,25.30)" font-size="11.5" fill="#000" stroke="#000" stroke-width="0.08" text-anchor="middle">600</text><text transform="translate(598.30,25.30)" font-size="11.5" fill="#000" stroke="#000" stroke-width="0.08" text-anchor="middle">700</text><text transform="translate(626.30,25.30)" font-size="11.5" fill="#000" stroke="#000" stroke-width="0.08" text-anchor="middle">800</text><text transform="translate(415.20,251.70)" font-size="11.5" fill="#000" stroke="#000" stroke-width="0.08" text-anchor="middle">0</text><text transform="translate(465.20,251.70)" font-size="11.5" fill="#000" stroke="#000" stroke-width="0.08" text-anchor="middle">20</text><text transform="translate(515.20,251.70)" font-size="11.5" fill="#000" stroke="#000" stroke-width="0.08" text-anchor="middle">40</text><text transform="translate(565.20,251.70)" font-size="11.5" fill="#000" stroke="#000" stroke-width="0.08" text-anchor="middle">60</text><text transform="translate(615.20,251.70)" font-size="11.5" fill="#000" stroke="#000" stroke-width="0.08" text-anchor="middle">80</text><text transform="translate(404.60,53.60)" font-size="11.5" fill="#000" stroke="#000" stroke-width="0.08" text-anchor="end">0</text><text transform="translate(404.60,104.10)" font-size="11.5" fill="#000" stroke="#000" stroke-width="0.08" text-anchor="end">-2</text><text transform="translate(404.60,155.10)" font-size="11.5" fill="#000" stroke="#000" stroke-width="0.08" text-anchor="end">-4</text><text transform="translate(404.60,206.10)" font-size="11.5" fill="#000" stroke="#000" stroke-width="0.08" text-anchor="end">-6</text><text transform="translate(641.60,62.00)" font-size="11.5" fill="#000" stroke="#000" stroke-width="0.08">20</text><text transform="translate(641.60,89.90)" font-size="11.5" fill="#000" stroke="#000" stroke-width="0.08">0</text><text transform="translate(638.20,117.50)" font-size="11.5" fill="#000" stroke="#000" stroke-width="0.08">-20</text><text transform="translate(638.20,145.40)" font-size="11.5" fill="#000" stroke="#000" stroke-width="0.08">-40</text><text transform="translate(638.20,173.10)" font-size="11.5" fill="#000" stroke="#000" stroke-width="0.08">-60</text><text transform="translate(638.20,201.10)" font-size="11.5" fill="#000" stroke="#000" stroke-width="0.08">-80</text><text transform="translate(638.20,229.10)" font-size="11.5" fill="#000" stroke="#000" stroke-width="0.08">-100</text>
<text transform="translate(369.00,49.90)" font-size="13" fill="#000" stroke="#000" stroke-width="0.08">(b)</text>
<text transform="translate(478.60,10.40) scale(1.0,1.06)" font-size="11.5" fill="#000" stroke="#000" stroke-width="0.08">Temperature / <tspan font-size="6.5" dy="-5.8">o</tspan><tspan dy="5.8">C</tspan></text>
<text transform="translate(495.00,265.50)" font-size="11.5" fill="#000" stroke="#000" stroke-width="0.08">Time / min</text>
<text transform="translate(382.20,135.30) rotate(-90)" font-size="11.5" fill="#000" stroke="#000" stroke-width="0.08" text-anchor="middle">Weight difference / mg</text>
<text transform="translate(673.80,136.10) rotate(90) scale(1.025,1.0)" font-size="11.5" fill="#000" stroke="#000" stroke-width="0.08" text-anchor="middle">Heat flow / µV</text>
<text transform="translate(462.40,100.50)" font-size="13" fill="#ff0000" stroke="#ff0000" stroke-width="0.08">TG</text>
<text transform="translate(555.80,98.90) scale(1.0,0.92)" font-size="13" fill="#3a6cff" stroke="#3a6cff" stroke-width="0.08">DTA</text>
<g stroke="#ff0000" stroke-width="1.6"><line x1="465" y1="103.3" x2="482.2" y2="103.3"/></g>
<path d="M461.4 103.3 L466.6 101.3 L465.4 103.3 L466.6 105.5 Z" fill="#ff0000" stroke="#ff0000" stroke-width="0.3"/>
<g stroke="#3a6cff" stroke-width="1.6"><line x1="560" y1="101.9" x2="577" y2="101.9"/></g>
<path d="M580.3 101.9 L576.0 99.8 L576.0 104.0 Z" fill="#3a6cff" stroke="#3a6cff" stroke-width="0.3"/>
</svg>
</body></html>
